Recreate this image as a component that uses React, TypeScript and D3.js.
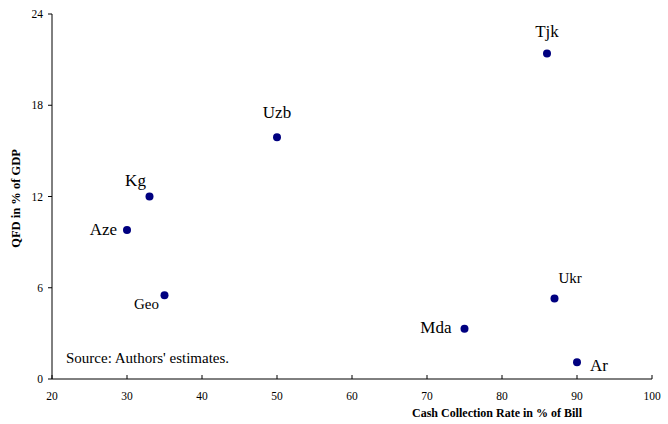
import React from "react";
import * as d3 from "d3";

const countries = ["Tjk", "Uzb", "Kg", "Aze", "Geo", "Ukr", "Mda", "Ar"];
const collectionRate = [86, 50, 33, 30, 35, 87, 75, 90];
const qfdShare = [21.4, 15.9, 12.0, 9.8, 5.5, 5.3, 3.3, 1.1];
const xTicks = [20, 30, 40, 50, 60, 70, 80, 90, 100];
const yTicks = [0, 6, 12, 18, 24];

// label placement relative to each dot: [dx, dy, anchor, fontSize]
const labelPlacement: Record<string, [number, number, string, number]> = {
  Tjk: [0, -17, "middle", 17],
  Uzb: [0, -19, "middle", 17],
  Kg: [-14, -11, "middle", 17],
  Aze: [-10, 5, "end", 17],
  Geo: [-18, 14, "middle", 15],
  Ukr: [4, -15, "start", 15],
  Mda: [-13, 4, "end", 17],
  Ar: [13, 9, "start", 17],
};

const W = 668;
const H = 424;
const left = 52;
const right = 652;
const top = 14;
const bottom = 379;
const serif = "Liberation Serif, Times New Roman, Times, DejaVu Serif, serif";

export default function App() {
  const x = d3.scaleLinear().domain([20, 100]).range([left, right]);
  const y = d3.scaleLinear().domain([0, 24]).range([bottom, top]);
  const ts = { fontFamily: serif };
  return (
    <svg
      width={W}
      height={H}
      style={{ position: "absolute", left: 0, top: 0, background: "#fff", fontFamily: serif }}
    >
      {/* axes */}
      <line x1={left} x2={left} y1={top} y2={bottom} stroke="#000" strokeWidth={1} />
      <line x1={left} x2={right} y1={bottom} y2={bottom} stroke="#000" strokeWidth={1} />
      {yTicks.map((t) => (
        <g key={"y" + t}>
          <line x1={left - 4} x2={left} y1={y(t)} y2={y(t)} stroke="#000" />
          <text x={left - 9} y={y(t) + 4} fontSize={11.5} textAnchor="end" style={ts}>
            {t}
          </text>
        </g>
      ))}
      {xTicks.map((t) => (
        <g key={"x" + t}>
          <line x1={x(t)} x2={x(t)} y1={bottom} y2={bottom - 4} stroke="#000" />
          <text x={x(t)} y={bottom + 21} fontSize={11.5} textAnchor="middle" style={ts}>
            {t}
          </text>
        </g>
      ))}
      <text
        transform={`translate(20,${(top + bottom) / 2 + 2}) rotate(-90)`}
        fontSize={12.5}
        fontWeight="bold"
        textAnchor="middle"
        style={ts}
      >
        QFD in % of GDP
      </text>
      <text x={497} y={417} fontSize={12} fontWeight="bold" textAnchor="middle" style={ts}>
        Cash Collection Rate in % of Bill
      </text>
      <text x={66} y={363} fontSize={15} style={ts}>
        Source: Authors' estimates.
      </text>
      {countries.map((c, i) => {
        const cx = x(collectionRate[i]);
        const cy = y(qfdShare[i]);
        const [dx, dy, anchor, fs] = labelPlacement[c];
        return (
          <g key={c}>
            <circle cx={cx} cy={cy} r={4} fill="#000080" />
            <text x={cx + dx} y={cy + dy} fontSize={fs} textAnchor={anchor} style={ts}>
              {c}
            </text>
          </g>
        );
      })}
    </svg>
  );
}
